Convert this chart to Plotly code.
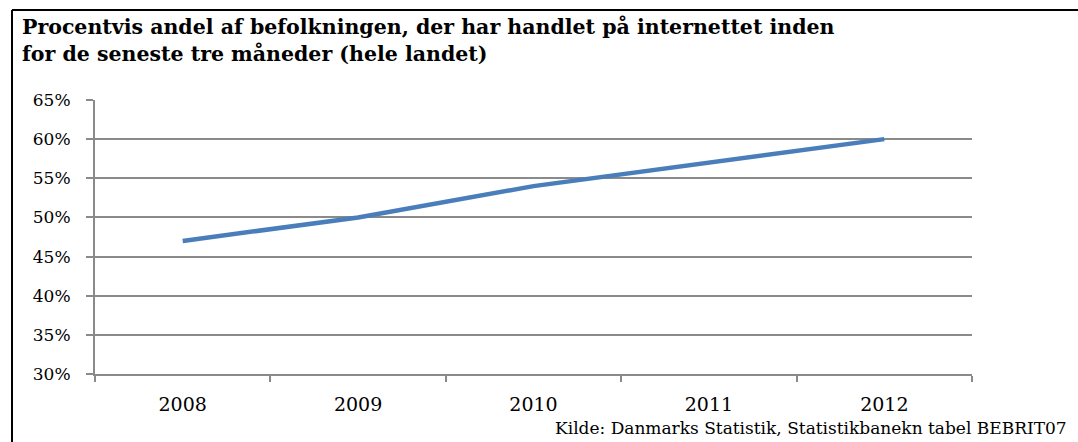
"""Online-handel i Danmark 2008-2012 — linjediagram."""

import plotly.graph_objects as go

years = ["2008", "2009", "2010", "2011", "2012"]
share = [0.47, 0.50, 0.54, 0.57, 0.60]

TITLE = (
    "<b>Procentvis andel af befolkningen, der har handlet på internettet inden<br>"
    "for de seneste tre måneder (hele landet)</b>"
)
SOURCE = "Kilde: Danmarks Statistik, Statistikbanekn tabel BEBRIT07"

W, H = 1078, 442
M = dict(l=95, r=106, t=100, b=68)
SERIF = "Georgia, DejaVu Serif, serif"
GRID = "#8a8a8a"

fig = go.Figure(
    go.Scatter(
        x=years,
        y=share,
        mode="lines",
        line=dict(color="#4A7EBB", width=4.5),
        showlegend=False,
    )
)


def px_x(p):
    return (p - M["l"]) / (W - M["l"] - M["r"])


def px_y(p):
    return 1 - (p - M["t"]) / (H - M["t"] - M["b"])


# black frame (top + left edge) like the original report box
frame = dict(type="line", xref="paper", yref="paper", line=dict(color="black", width=2))
fig.add_shape(**frame, x0=px_x(12), x1=px_x(W), y0=px_y(10), y1=px_y(10))
fig.add_shape(**frame, x0=px_x(12), x1=px_x(12), y0=px_y(10), y1=px_y(H))

# title as an annotation: multi-line titles anchor more predictably this way
fig.add_annotation(
    text=TITLE,
    xref="paper", yref="paper",
    x=px_x(20), y=px_y(13),
    xanchor="left", yanchor="top",
    align="left",
    showarrow=False,
    font=dict(family=SERIF, size=20.5, color="black"),
)

fig.add_annotation(
    text=SOURCE,
    xref="paper", yref="paper",
    x=px_x(1069), y=px_y(428),
    xanchor="right", yanchor="middle",
    showarrow=False,
    font=dict(family=SERIF, size=17, color="black"),
)

fig.update_layout(
    width=W,
    height=H,
    margin=M,
    paper_bgcolor="white",
    plot_bgcolor="white",
    font=dict(family=SERIF, color="black", size=17),
    xaxis=dict(
        range=[-0.5, 4.5],
        showgrid=False,
        showline=True,
        linecolor=GRID,
        linewidth=2,
        ticks="outside",
        tickson="boundaries",
        ticklen=6,
        tickcolor=GRID,
        tickwidth=1.5,
        tickfont=dict(size=19),
        ticklabelstandoff=12,
        zeroline=False,
    ),
    yaxis=dict(
        range=[0.30, 0.65],
        dtick=0.05,
        tickformat=".0%",
        showgrid=True,
        gridcolor=GRID,
        gridwidth=1.5,
        showline=True,
        linecolor=GRID,
        linewidth=2,
        ticks="outside",
        ticklen=7,
        tickcolor=GRID,
        tickwidth=1.5,
        tickfont=dict(size=17),
        ticklabelstandoff=12,
        zeroline=False,
    ),
)

# drop the default 8px body margin so the figure sits at the window corner
fig.write_html(
    "out.html",
    config={"displayModeBar": False},
    post_script="document.body.style.margin='0';",
)
